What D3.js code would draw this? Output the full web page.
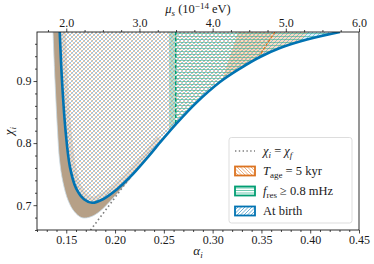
<!DOCTYPE html>
<html>
<head>
<meta charset="utf-8">
<script src="https://cdn.jsdelivr.net/npm/d3@7"></script>
<style>
body { margin: 0; background: #fff; }
svg text { font-family: "Liberation Serif", "Times New Roman", serif; fill: #1a1a1a; }
</style>
</head>
<body>
<div id="chart"></div>
<script>
// Grenze "At birth" (alpha_i, chi_i)
let birthAlpha = [0.1433, 0.1456, 0.1492, 0.1538, 0.1600, 0.1682, 0.1764, 0.1876, 0.2020, 0.2153,
  0.2327, 0.2481, 0.2624, 0.2829, 0.3075, 0.3280, 0.3485, 0.3690, 0.3967, 0.4305];
let birthChi = [0.979, 0.9016, 0.8209, 0.7613, 0.7274, 0.7096, 0.7040, 0.7096, 0.7258, 0.7451,
  0.7758, 0.8048, 0.8306, 0.8645, 0.8984, 0.9201, 0.9387, 0.9532, 0.9669, 0.979];

// äußerer Rand des T_age-Bandes (links/unten)
let ageOuterAlpha = [0.1364, 0.1384, 0.1410, 0.1431, 0.1466, 0.1518, 0.1579, 0.1661, 0.1753, 0.1846,
  0.1948, 0.2051, 0.2163];
let ageOuterChi = [0.979, 0.9016, 0.8209, 0.7725, 0.7371, 0.7080, 0.6903, 0.6798, 0.6814, 0.6903,
  0.7060, 0.7240, 0.7435];

// T_age = 5 kyr Linie rechts oben
let ageLineAlpha = [0.3639, 0.3557, 0.3475];
let ageLineChi = [0.979, 0.9596, 0.9387];
// T_age Band rechts oben (wird auf die Birth-Region beschnitten)
let ageBandAlpha = [0.326, 0.3977, 0.360, 0.305];
let ageBandChi = [0.979, 0.979, 0.900, 0.880];
let birthBandAlpha = [0.3977, 0.45, 0.45, 0.360];
let birthBandChi = [0.979, 0.979, 0.900, 0.900];

// f_res >= 0.8 mHz
let fresAlpha = 0.2622;
let fresBand = [0.2553, 0.2622];

// chi_i = chi_f
let equalAlpha = [0.1748, 0.1956, 0.2163];
let equalChi = [0.6597, 0.7032, 0.7467];

let xMajor = [0.15, 0.20, 0.25, 0.30, 0.35, 0.40, 0.45];
let muMajor = [2.0, 3.0, 4.0, 5.0, 6.0];
let yMajor = [0.7, 0.8, 0.9];

let blau = "#0173b2", orange = "#dc7320", gruen = "#029e73", tan = "#b6a087";

let width = 374, height = 264;
let x = d3.scaleLinear().domain([0.12, 0.45]).range([37, 359]);
let y = d3.scaleLinear().domain([0.66, 0.979]).range([230, 32]);
let xTop = d3.scaleLinear().domain([1.6, 6.0]).range([37, 359]);

let xMinor = d3.range(0.12, 0.4501, 0.01).filter(v => !xMajor.some(m => Math.abs(m - v) < 1e-6));
let muMinor = d3.range(1.75, 6.0, 0.25).filter(v => !muMajor.some(m => Math.abs(m - v) < 1e-6));
let yMinor = d3.range(0.66, 0.979, 0.02).filter(v => !yMajor.some(m => Math.abs(m - v) < 1e-6));

let svg = d3.select("#chart").append("svg")
  .attr("width", width)
  .attr("height", height);

let pts = (as, cs) => as.map((a, i) => [x(a), y(cs[i])]);
let smooth = d3.line().curve(d3.curveCatmullRom.alpha(0.5));
let straight = d3.line();

let birth = pts(birthAlpha, birthChi);
let birthPath = smooth(birth) + "Z";
let ageRegion = birth.filter((p, i) => birthAlpha[i] <= 0.3485)
  .concat(pts(ageLineAlpha, ageLineChi).reverse());

let defs = svg.append("defs");
defs.append("clipPath").attr("id", "plot")
  .append("rect").attr("x", 37).attr("y", 32).attr("width", 322).attr("height", 198);
defs.append("clipPath").attr("id", "birthClip")
  .append("path").attr("d", birthPath);
defs.append("clipPath").attr("id", "ageClip")
  .append("path").attr("d", straight(ageRegion) + "Z");
defs.append("clipPath").attr("id", "fresClip")
  .append("rect").attr("x", x(fresAlpha)).attr("y", 32)
  .attr("width", x(0.45) - x(fresAlpha)).attr("height", 198);

// Schraffur als echte Linien ("/", "\" oder "-")
function schraffur(g, art, x0, y0, w, h, step, color, op) {
  let linien;
  if (art === "/") linien = d3.range(x0 - h, x0 + w, step).map(k => [k, y0 + h, k + h, y0]);
  else if (art === "\\") linien = d3.range(x0 - h, x0 + w, step).map(k => [k, y0, k + h, y0 + h]);
  else linien = d3.range(y0 + 1.5, y0 + h, step).map(k => [x0, k, x0 + w, k]);
  g.selectAll(null).data(linien).enter().append("line")
    .attr("x1", d => d[0]).attr("y1", d => d[1])
    .attr("x2", d => d[2]).attr("y2", d => d[3])
    .attr("stroke", color)
    .attr("stroke-width", 0.8)
    .attr("stroke-opacity", op);
}

let plot = svg.append("g").attr("clip-path", "url(#plot)");

// T_age Band links (Überlagerung -> braun)
let birthLow = birth.filter((p, i) => birthAlpha[i] <= 0.2153).reverse();
plot.append("path")
  .attr("d", smooth(pts(ageOuterAlpha, ageOuterChi)) + smooth(birthLow).replace(/^M/, "L") + "Z")
  .attr("fill", tan)
  .attr("stroke", "#c9dbe6")
  .attr("stroke-width", 0.8);

// chi_i = chi_f
plot.append("path")
  .attr("d", straight(pts(equalAlpha, equalChi)))
  .attr("fill", "none")
  .attr("stroke", "#7f7f7f")
  .attr("stroke-width", 1.6)
  .attr("stroke-dasharray", "1.6,2.6");

let innen = plot.append("g").attr("clip-path", "url(#birthClip)");

// helles Band innen am Rand
innen.append("path")
  .attr("d", smooth(birth.filter((p, i) => birthAlpha[i] <= 0.25)))
  .attr("fill", "none")
  .attr("stroke", tan)
  .attr("stroke-width", 12)
  .attr("stroke-opacity", 0.3);

innen.append("path")
  .attr("d", straight(pts(ageBandAlpha, ageBandChi)) + "Z")
  .attr("fill", "#f0b27a")
  .attr("fill-opacity", 0.45);

innen.append("path")
  .attr("d", straight(pts(birthBandAlpha, birthBandChi)) + "Z")
  .attr("fill", "#9fd0ea")
  .attr("fill-opacity", 0.35);

innen.append("rect")
  .attr("x", x(fresBand[0])).attr("y", 32)
  .attr("width", x(fresBand[1]) - x(fresBand[0])).attr("height", 198)
  .attr("fill", "#8ed3b6")
  .attr("fill-opacity", 0.6);

// Schraffuren: T_age (\), At birth (/), f_res (-)
schraffur(innen.append("g").attr("clip-path", "url(#ageClip)"), "\\", 37, 32, 322, 198, 4, "#ef9f5c", 0.75);
schraffur(innen.append("g"), "/", 37, 32, 322, 198, 4, "#4a9ad6", 0.75);
schraffur(innen.append("g").attr("clip-path", "url(#fresClip)"), "-", 37, 32, 322, 198, 3, "#2fae88", 0.7);

// Linien
innen.append("line")
  .attr("x1", x(fresAlpha)).attr("x2", x(fresAlpha))
  .attr("y1", 32).attr("y2", 230)
  .attr("stroke", gruen)
  .attr("stroke-width", 1.5)
  .attr("stroke-dasharray", "3.5,2");

plot.append("path")
  .attr("d", smooth(pts(ageLineAlpha, ageLineChi)))
  .attr("fill", "none")
  .attr("stroke", orange)
  .attr("stroke-width", 1.2)
  .attr("stroke-dasharray", "3,1.5");

plot.append("path")
  .attr("d", smooth(birth))
  .attr("fill", "none")
  .attr("stroke", blau)
  .attr("stroke-width", 2.6);

// Achsen
function achse(gen, tr, values, size, fmt) {
  let g = svg.append("g").attr("transform", tr)
    .call(gen.tickValues(values).tickSize(size).tickPadding(2).tickFormat(fmt));
  g.attr("font-family", null);
  g.select(".domain").remove();
  g.selectAll("line").attr("stroke", "#1a1a1a").attr("stroke-width", 0.8);
  g.selectAll("text").attr("font-size", 12).attr("fill", "#1a1a1a");
  return g;
}
achse(d3.axisBottom(x), "translate(0,230)", xMajor, 3.5, d3.format(".2f"));
achse(d3.axisBottom(x), "translate(0,230)", xMinor, 2, () => "");
achse(d3.axisTop(xTop), "translate(0,32)", muMajor, 3.5, d3.format(".1f"));
achse(d3.axisTop(xTop), "translate(0,32)", muMinor, 2, () => "");
achse(d3.axisLeft(y), "translate(37,0)", yMajor, 3.5, d3.format(".1f"));
achse(d3.axisLeft(y), "translate(37,0)", yMinor, 2, () => "");

svg.append("rect")
  .attr("x", 37).attr("y", 32).attr("width", 322).attr("height", 198)
  .attr("fill", "none")
  .attr("stroke", "#1a1a1a")
  .attr("stroke-width", 0.9);

// Text mit Indizes
function rich(t, parts) {
  let shift = 0;
  parts.forEach(p => {
    let ziel = p.sub ? 3 : p.sup ? -4.5 : 0;
    let ts = t.append("tspan").attr("dy", ziel - shift).text(p.t);
    shift = ziel;
    if (p.it) ts.style("font-style", "italic");
    if (p.sub || p.sup) ts.attr("font-size", 9);
  });
}

let xl = svg.append("text").attr("x", 198).attr("y", 255).attr("text-anchor", "middle").attr("font-size", 13);
rich(xl, [{ t: "α", it: true }, { t: "i", it: true, sub: true }]);

let tl = svg.append("text").attr("x", 198).attr("y", 13).attr("text-anchor", "middle").attr("font-size", 12.5);
rich(tl, [{ t: "μ", it: true }, { t: "s", it: true, sub: true }, { t: " (10" }, { t: "−14", sup: true }, { t: " eV)" }]);

let yl = svg.append("text").attr("transform", "translate(13,131) rotate(-90)").attr("text-anchor", "middle").attr("font-size", 13);
rich(yl, [{ t: "χ", it: true }, { t: "i", it: true, sub: true }]);

// Legende
let legende = svg.append("g");
legende.append("rect")
  .attr("x", 229).attr("y", 137.5).attr("width", 123).attr("height", 85.5).attr("rx", 2.5)
  .attr("fill", "#fff").attr("fill-opacity", 0.85)
  .attr("stroke", "#d4d4d4").attr("stroke-width", 0.8);

let zeilen = [151, 171, 191, 211];
let legendText = [
  [{ t: "χ", it: true }, { t: "i", it: true, sub: true }, { t: " = " }, { t: "χ", it: true }, { t: "f", it: true, sub: true }],
  [{ t: "T", it: true }, { t: "age", sub: true }, { t: " = 5 kyr" }],
  [{ t: "f", it: true }, { t: "res", sub: true }, { t: " ≥ 0.8 mHz" }],
  [{ t: "At birth" }]
];
let legendHatch = [null, ["\\", orange], ["-", gruen], ["/", blau]];

legende.append("line")
  .attr("x1", 235).attr("x2", 255).attr("y1", zeilen[0]).attr("y2", zeilen[0])
  .attr("stroke", "#7f7f7f").attr("stroke-width", 1.4).attr("stroke-dasharray", "1.4,2.4");

zeilen.forEach((zy, i) => {
  if (legendHatch[i]) {
    let id = "leg" + i;
    defs.append("clipPath").attr("id", id)
      .append("rect").attr("x", 235).attr("y", zy - 4.5).attr("width", 20).attr("height", 9);
    schraffur(legende.append("g").attr("clip-path", "url(#" + id + ")"),
      legendHatch[i][0], 235, zy - 4.5, 20, 9, legendHatch[i][0] === "-" ? 2.5 : 3.5, legendHatch[i][1], 0.7);
    legende.append("rect")
      .attr("x", 235).attr("y", zy - 4.5).attr("width", 20).attr("height", 9)
      .attr("fill", "none")
      .attr("stroke", legendHatch[i][1]).attr("stroke-width", 1.8);
  }
  let t = legende.append("text").attr("x", 263).attr("y", zy + 4).attr("font-size", 12.5);
  rich(t, legendText[i]);
});
</script>
</body>
</html>
